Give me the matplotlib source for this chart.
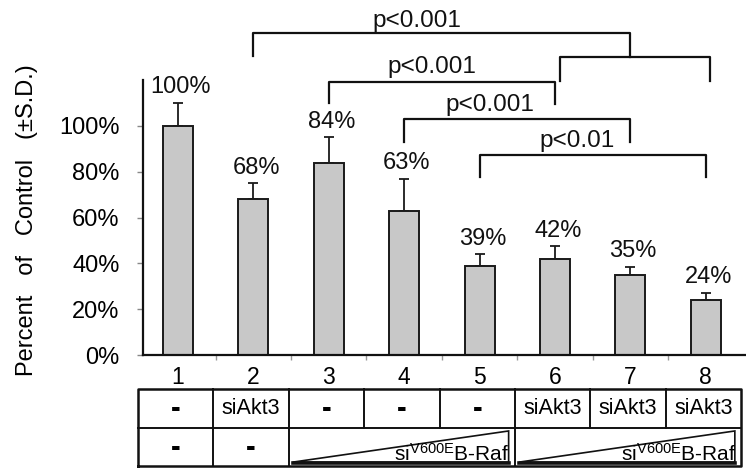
import matplotlib
matplotlib.use('Agg')
import matplotlib.pyplot as plt
import numpy as np
from matplotlib.patches import Polygon

plt.rcParams['font.family'] = ['Liberation Sans', 'DejaVu Sans']
plt.rcParams['mathtext.fontset'] = 'custom'
plt.rcParams['mathtext.rm'] = 'Liberation Sans'
plt.rcParams['mathtext.it'] = 'Liberation Sans:italic'
plt.rcParams['mathtext.bf'] = 'Liberation Sans:bold'

# ---------------- data ----------------
lanes = [1, 2, 3, 4, 5, 6, 7, 8]
values = [1.00, 0.68, 0.84, 0.63, 0.39, 0.42, 0.35, 0.24]
errors = [0.10, 0.07, 0.11, 0.14, 0.05, 0.055, 0.035, 0.03]
bar_labels = ['100%', '68%', '84%', '63%', '39%', '42%', '35%', '24%']
yticks = [0.0, 0.2, 0.4, 0.6, 0.8, 1.0]
ytick_labels = ['0%', '20%', '40%', '60%', '80%', '100%']
ylabel = 'Percent   of   Control   (±S.D.)'
row1 = ['-', 'siAkt3', '-', '-', '-', 'siAkt3', 'siAkt3', 'siAkt3']
row2_single = ['-', '-']            # lanes 1, 2
wedge_groups = [(3, 5), (6, 8)]     # merged cells with gradient wedge
wedge_label = r'si$^{\mathrm{V600E}}$B-Raf'
p_texts = ['p<0.001', 'p<0.001', 'p<0.001', 'p<0.01']
# bracket ends (lanes); first one goes to the middle of a sub-bracket over lanes 6-8
brackets = [(2, 7), (3, 6), (4, 7), (5, 8)]
sub_bracket = (6, 8)

# ---------------- figure ----------------
W, H = 746, 468
fig = plt.figure(figsize=(W / 100, H / 100), dpi=100)
ax_left = 143 / W
ax_w = (W - 143) / W
ax = fig.add_axes([ax_left, (H - 355) / H, ax_w, (1.2 * 229) / H])

xlim = (0.536, 8.533)
ax.set_xlim(*xlim)
ax.set_ylim(0, 1.2)

ec = '#1a1a1a'
ax.errorbar(lanes, values, yerr=[np.zeros(len(errors)), errors], fmt='none',
            ecolor=ec, elinewidth=1.3, capsize=3.5, capthick=1.3, zorder=1)
ax.bar(lanes, values, width=0.4, color='#c8c8c8', edgecolor=ec, linewidth=1.4, zorder=2)

for x, v, e, lab in zip(lanes, values, errors, bar_labels):
    ax.annotate(lab, (x, v + e), xytext=(2, 7), textcoords='offset points',
                ha='center', va='baseline', fontsize=17, color='#111111')

for s in ['top', 'right']:
    ax.spines[s].set_visible(False)
for s in ['left', 'bottom']:
    ax.spines[s].set_linewidth(1.6)
    ax.spines[s].set_color('#111111')

ax.set_yticks(yticks)
ax.set_yticklabels(ytick_labels, fontsize=17)
ax.tick_params(axis='y', direction='out', length=4, width=1, color='#888888', pad=13)
ax.set_xticks(lanes)
ax.set_xticklabels([str(l) for l in lanes], fontsize=16.5)
ax.tick_params(axis='x', which='major', length=0, pad=8)
ax.set_xticks(np.arange(1.5, 8.5, 1), minor=True)
ax.tick_params(axis='x', which='minor', direction='out', length=3.5, width=1, color='#999999')

fig.text(27 / W, (H - 220) / H, ylabel, rotation=90, ha='center', va='center', fontsize=17)

# ---------------- significance brackets ----------------
lc = '#111111'
lw = 1.6
kw = dict(color=lc, lw=lw, clip_on=False, solid_capstyle='projecting')
# layout (y levels in data units): (bar y, left leg bottom, right leg bottom, text x, text y)
layout = [
    (1.406, 1.306, 1.301, 4.17, 1.434),
    (1.192, 1.100, 1.096, 4.37, 1.230),
    (1.031, 0.930, 0.930, 5.14, 1.066),
    (0.873, 0.777, 0.777, 6.29, 0.910),
]
for (x0, x1), (yb, yl, yr, tx, ty), txt in zip(brackets, layout, p_texts):
    ax.plot([x0, x0, x1, x1], [yl, yb, yb, yr], **kw)
    ax.text(tx, ty, txt, ha='center', va='baseline', fontsize=17.5, color='#111111')
# sub-bracket under first bracket's right end
sb0, sb1 = sub_bracket[0] + 0.06, sub_bracket[1] + 0.06
ax.plot([sb0, sb0, sb1, sb1], [1.197, 1.301, 1.301, 1.197], **kw)

# ---------------- table ----------------
axt = fig.add_axes([ax_left, 2 / H, ax_w, (466 - 389) / H])
axt.set_xlim(*xlim)
axt.set_ylim(0, 2)
axt.axis('off')
tkw = dict(color=lc, clip_on=False)
off = 0.03
xl, xr = lanes[0] - 0.5 - off, lanes[-1] + 0.5 - off
axt.plot([xl, xr, xr, xl, xl], [0, 0, 2, 2, 0], lw=1.8, **tkw)
axt.plot([xl, xr], [1, 1], lw=1.4, **tkw)
for l in lanes[:-1]:
    axt.plot([l + 0.5 - off] * 2, [1, 2], lw=1.4, **tkw)
# row 2 boundaries
for l in [1, 2, 5]:
    axt.plot([l + 0.5 - off] * 2, [0, 1], lw=1.4, **tkw)

for l, t in zip(lanes, row1):
    if t == '-':
        axt.text(l - off, 1.48, t, ha='center', va='center', fontsize=21, fontweight='bold')
    else:
        axt.text(l - off, 1.5, t, ha='center', va='center', fontsize=15.5)
for l, t in zip(lanes[:2], row2_single):
    axt.text(l - off, 0.48, t, ha='center', va='center', fontsize=21, fontweight='bold')

for a, b in wedge_groups:
    cl, cr = a - 0.5 - off, b + 0.5 - off
    wl, wr = cl + 0.05, cr - 0.085
    poly = Polygon([[wl, 0.10], [wr, 0.91], [wr, 0.10]], closed=True,
                   fill=False, edgecolor=lc, lw=1.2, clip_on=False)
    axt.add_patch(poly)
    axt.plot([wl, wr], [0.09, 0.09], lw=2.6, **tkw)
    axt.text(wr + 0.01, 0.13, wedge_label, ha='right', va='baseline', fontsize=15)

fig.savefig('out.png', dpi=100)
